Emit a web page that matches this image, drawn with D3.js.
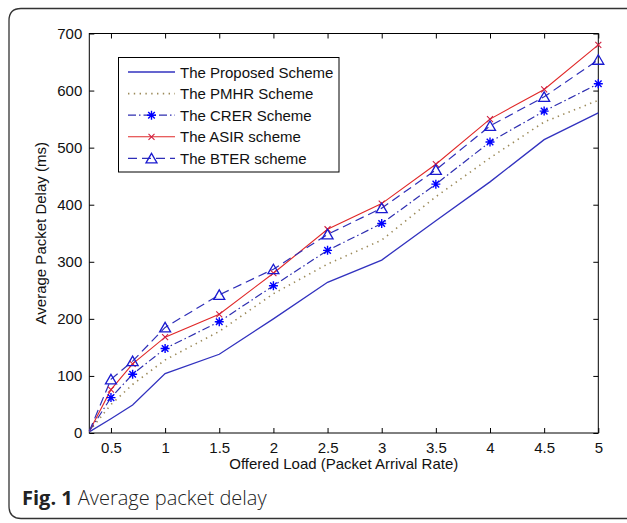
<!DOCTYPE html>
<html><head><meta charset="utf-8">
<script src="https://cdn.jsdelivr.net/npm/d3@7"></script>
<style>
html,body{margin:0;padding:0;background:#fff;}
svg text{font-family:"Liberation Sans",Arial,sans-serif;}
svg text.cap{font-family:"Open Sans","Noto Sans",sans-serif;}
</style></head>
<body><svg id="c" width="627" height="523"></svg>
<script>
// ---- data ----
const loads = [0.3, 0.5, 0.7, 1, 1.5, 2, 2.5, 3, 3.5, 4, 4.5, 5];
const proposed = [2, 25, 49, 104, 138, 200, 264, 303, 372, 440, 514, 561];
const pmhr     = [3, 50, 85, 128, 178, 244, 296, 338, 414, 482, 545, 583];
const crer     = [3, 62, 103, 148, 195, 258, 320, 367, 436, 510, 564, 612];
const asir     = [3, 76, 121, 168, 208, 280, 357, 402, 471, 550, 602, 680];
const bter     = [3, 94, 126, 185, 242, 287, 348, 394, 461, 538, 589, 654];
const seriesNames = ["The Proposed Scheme", "The PMHR Scheme", "The CRER Scheme", "The ASIR scheme", "The BTER scheme"];
const xTicks = [0.5, 1, 1.5, 2, 2.5, 3, 3.5, 4, 4.5, 5];
const xTickLabels = ["0.5", "1", "1.5", "2", "2.5", "3", "3.5", "4", "4.5", "5"];
const yTicks = [0, 100, 200, 300, 400, 500, 600, 700];
const xTitle = "Offered Load (Packet Arrival Rate)";
const yTitle = "Average Packet Delay (ms)";
const captionBold = "Fig. 1";
const captionText = "Average packet delay";

// ---- styles ----
const styles = [
  {color:"#3232bf", width:1.3, dash:null, marker:null, mcolor:null},
  {color:"#9c8a5a", width:1.6, dash:"1.4,4.4", marker:null, mcolor:null},
  {color:"#2e2eb0", width:1.2, dash:"8,3,1.5,3", marker:"star", mcolor:"#0000ff"},
  {color:"#e02828", width:1.1, dash:null, marker:"x", mcolor:"#d02040"},
  {color:"#2e2eb8", width:1.2, dash:"9,5", marker:"tri", mcolor:"#1a1ad0"}
];
const allData = [proposed, pmhr, crer, asir, bter];

const svg = d3.select("#c");
const L = 89.3, R = 598.3, T = 33.5, B = 433;
const x = d3.scaleLinear().domain([0.3, 5]).range([L, R]);
const y = d3.scaleLinear().domain([0, 700]).range([B, T]);

// outer frame
svg.append("path")
  .attr("d", "M 640 8.5 L 21 8.5 Q 9 8.5 9 20.5 L 9 506 Q 9 518.5 21 518.5 L 640 518.5")
  .attr("fill","none").attr("stroke","#333").attr("stroke-width",1.3);

// plot box
svg.append("rect").attr("x",L).attr("y",T).attr("width",R-L).attr("height",B-T)
  .attr("fill","#fff").attr("stroke","#000").attr("stroke-width",1);

// axes with inward ticks
const tl = 5;
const gx = svg.append("g").attr("transform",`translate(0,${B})`)
  .call(d3.axisBottom(x).tickValues(xTicks).tickFormat((d,i)=>xTickLabels[i]).tickSizeInner(-tl).tickSizeOuter(0).tickPadding(9));
const gxt = svg.append("g").attr("transform",`translate(0,${T})`)
  .call(d3.axisTop(x).tickValues(xTicks).tickFormat("").tickSizeInner(-tl).tickSizeOuter(0));
const gy = svg.append("g").attr("transform",`translate(${L},0)`)
  .call(d3.axisLeft(y).tickValues(yTicks).tickFormat(d3.format("d")).tickSizeInner(-tl).tickSizeOuter(0).tickPadding(7));
const gyr = svg.append("g").attr("transform",`translate(${R},0)`)
  .call(d3.axisRight(y).tickValues(yTicks).tickFormat("").tickSizeInner(-tl).tickSizeOuter(0));
[gx,gxt,gy,gyr].forEach(g=>{
  g.select(".domain").remove();
  g.selectAll(".tick line").attr("stroke","#000");
  g.selectAll("text").attr("font-size",15).attr("fill","#111");
});

// axis titles
svg.append("text").attr("x",(L+R)/2).attr("y",469).attr("text-anchor","middle")
  .attr("font-size",15).attr("fill","#111").text(xTitle);
svg.append("text").attr("transform",`translate(46,${(T+B)/2}) rotate(-90)`).attr("text-anchor","middle")
  .attr("font-size",15).attr("fill","#111").text(yTitle);

// markers
function drawMarker(g, type, cx, cy, col){
  if(type==="star"){
    const s=4.5, d=3.3;
    const p=`M${cx-s},${cy}L${cx+s},${cy}M${cx},${cy-s}L${cx},${cy+s}M${cx-d},${cy-d}L${cx+d},${cy+d}M${cx-d},${cy+d}L${cx+d},${cy-d}`;
    g.append("path").attr("d",p).attr("stroke",col).attr("stroke-width",1.4).attr("fill","none");
  } else if(type==="x"){
    const s=3;
    g.append("path").attr("d",`M${cx-s},${cy-s}L${cx+s},${cy+s}M${cx-s},${cy+s}L${cx+s},${cy-s}`)
      .attr("stroke",col).attr("stroke-width",1.1).attr("fill","none");
  } else if(type==="tri"){
    const h=5;
    g.append("path").attr("d",`M${cx},${cy-h}L${cx+h+0.5},${cy+h-0.5}L${cx-h-0.5},${cy+h-0.5}Z`)
      .attr("stroke",col).attr("stroke-width",1.3).attr("fill","none");
  }
}

const line = d3.line().x((d,i)=>x(loads[i])).y(d=>y(d));
const plotG = svg.append("g");
allData.forEach((vals,k)=>{
  const st = styles[k];
  plotG.append("path").datum(vals).attr("d",line).attr("fill","none")
    .attr("stroke",st.color).attr("stroke-width",st.width)
    .attr("stroke-dasharray",st.dash);
});
allData.forEach((vals,k)=>{
  const st = styles[k];
  if(st.marker){
    vals.forEach((v,i)=>{ if(i>0) drawMarker(plotG, st.marker, x(loads[i]), y(v), st.mcolor); });
  }
});

// legend
const lg = svg.append("g");
lg.append("rect").attr("x",118.5).attr("y",57.5).attr("width",220.5).attr("height",114.5)
  .attr("fill","#fff").attr("stroke","#000").attr("stroke-width",1);
seriesNames.forEach((name,k)=>{
  const st = styles[k];
  const ry = 72 + k*21.6;
  lg.append("line").attr("x1",128).attr("x2",175).attr("y1",ry).attr("y2",ry)
    .attr("stroke",st.color).attr("stroke-width",st.width).attr("stroke-dasharray",st.dash);
  if(st.marker) drawMarker(lg, st.marker, 151.5, ry, st.mcolor);
  lg.append("text").attr("x",180).attr("y",ry+5.5).attr("font-size",15).attr("fill","#111").text(name);
});

// caption
const cap = svg.append("text").attr("class","cap").attr("x",22).attr("y",504.5).attr("font-size",20)
  .attr("fill","#222");
cap.append("tspan").attr("font-weight","bold").text(captionBold);
cap.append("tspan").attr("dx",5).attr("font-weight",300).text(captionText);
</script>
</body></html>
